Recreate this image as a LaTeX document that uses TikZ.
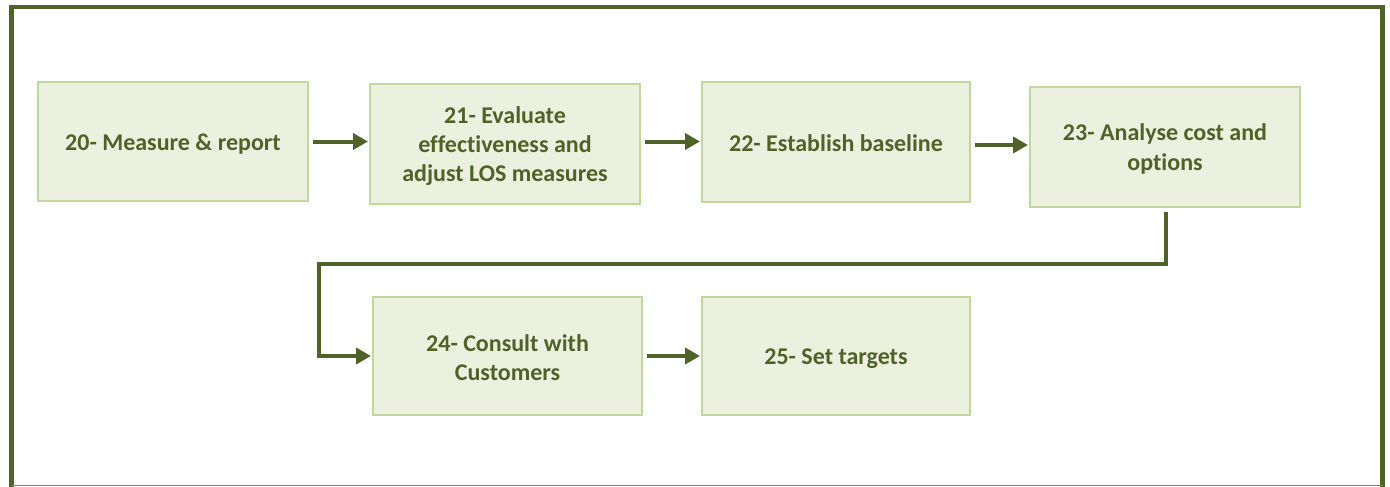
\documentclass[tikz,border=0pt]{standalone}
\usepackage{fontspec}
\setmainfont{Carlito}[Ligatures=NoCommon]
\usetikzlibrary{arrows.meta}
\definecolor{olive}{HTML}{4F6228}
\definecolor{boxfill}{HTML}{EBF1DE}
\definecolor{boxline}{HTML}{C3D69B}
\definecolor{rule}{HTML}{76923C}
\tikzset{
  stepbox/.style={draw=boxline, line width=2pt, fill=boxfill, inner sep=0pt},
  steptext/.style={inner sep=0pt, align=center, text=olive,
    font=\fontsize{24}{29.3}\selectfont\bfseries},
  flow/.style={draw=olive, line width=4pt,
    -{Triangle[length=15pt,width=16pt]}, shorten <=4pt, shorten >=1pt},
}
\begin{document}
\begin{tikzpicture}[x=1pt,y=-1pt]
\useasboundingbox (0,0) rectangle (1390,487);
% outer frame
\draw[olive, line width=4.5pt] (11.5,490) -- (11.5,7) -- (1382.5,7) -- (1382.5,490);
\draw[rule, line width=1.5pt] (11.5,485.5) -- (1382.5,485.5);

% process steps
\node[stepbox, minimum width=270pt, minimum height=119pt] (s20) at (173,141.5) {};
\node[stepbox, minimum width=270pt, minimum height=120pt] (s21) at (505,144) {};
\node[stepbox, minimum width=268pt, minimum height=120pt] (s22) at (836,142) {};
\node[stepbox, minimum width=270pt, minimum height=120pt] (s23) at (1165,147) {};
\node[stepbox, minimum width=269pt, minimum height=118pt] (s24) at (507.5,356) {};
\node[stepbox, minimum width=268pt, minimum height=118pt] (s25) at (836,356) {};

% step captions
\node[steptext] (t20) at ([yshift=-3pt]s20.center) {20- Measure \& report};
\node[steptext] (t21) at ([yshift=-2pt]s21.center) {21- Evaluate\\effectiveness and\\adjust LOS measures};
\node[steptext] (t22) at ([yshift=-1pt]s22.center) {22- Establish baseline};
\node[steptext] (t23) at ([yshift=-2pt]s23.center) {23- Analyse cost and\\options};
\node[steptext] (t24) at ([yshift=-2pt]s24.center) {24- Consult with\\Customers};
\node[steptext] (t25) at ([yshift=-3pt]s25.center) {25- Set targets};

% connectors
\draw[flow] (s20.east) -- (s20.east -| s21.west);
\draw[flow] (s21.east |- s20.east) -- (s20.east -| s22.west);
\draw[flow] (s22.east |- 0,145) -- (s23.west |- 0,145);
\coordinate (up) at (1166,264);
\coordinate (lo) at (319,264);
\draw[flow] (s23.south -| up) -- (up) -- (lo) -- (lo |- s24.west) -- (s24.west);
\draw[flow] (s24.east) -- (s25.west);
\end{tikzpicture}
\end{document}
